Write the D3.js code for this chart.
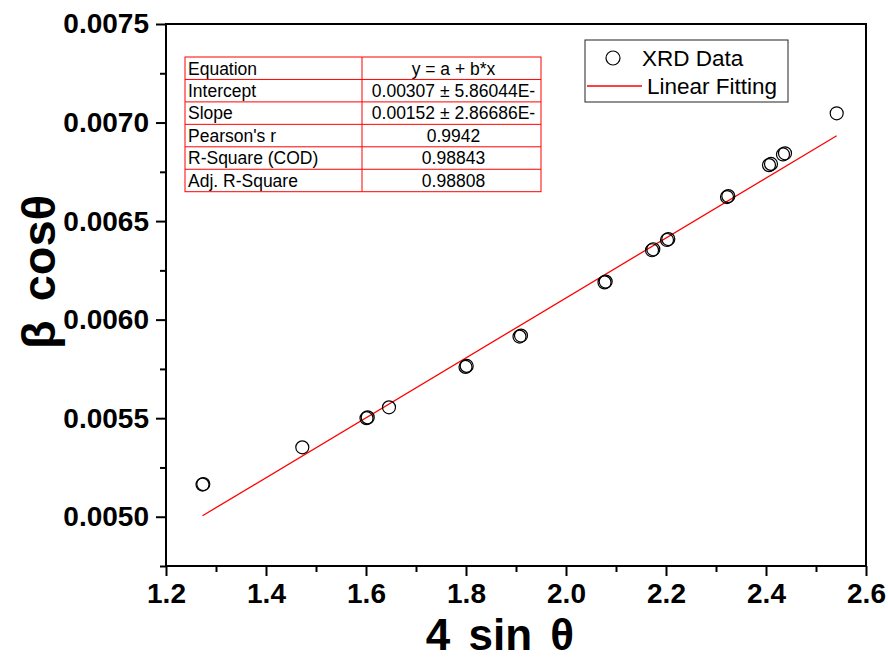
<!DOCTYPE html>
<html>
<head>
<meta charset="utf-8">
<script src="https://cdn.jsdelivr.net/npm/d3@7"></script>
<style>
  html, body { margin: 0; padding: 0; background: #fff; }
  svg { display: block; font-family: "Liberation Sans", Arial, sans-serif; }
</style>
</head>
<body>
<svg id="chart" width="888" height="662"></svg>
<script>
// XRD Williamson–Hall data: 4 sinθ vs β cosθ
const sinTheta4 = [1.2746, 1.2730, 1.4726, 1.6034, 1.6010, 1.6460, 1.8014, 1.7990,
                   1.9100, 1.9070, 2.0794, 2.0770, 2.1746, 2.1720, 2.2046, 2.2020,
                   2.3246, 2.3220, 2.4100, 2.4060, 2.4380, 2.4340, 2.5414];
const betaCosTheta = [0.005166, 0.005163, 0.005352, 0.005504, 0.005500, 0.005555, 0.005765, 0.005760,
                      0.005919, 0.005914, 0.006193, 0.006189, 0.006357, 0.006352, 0.006409, 0.006404,
                      0.006627, 0.006622, 0.006790, 0.006784, 0.006844, 0.006838, 0.007047];

// Linear fit parameters
const intercept = 0.00307;
const slope = 0.00152;

// Fit statistics table
const tableLabels = ["Equation", "Intercept", "Slope", "Pearson's r", "R-Square (COD)", "Adj. R-Square"];
const tableValues = ["y = a + b*x", "0.00307 \u00B1 5.86044E-", "0.00152 \u00B1 2.86686E-", "0.9942", "0.98843", "0.98808"];

// Axis ticks
const xTicks = [1.2, 1.4, 1.6, 1.8, 2.0, 2.2, 2.4, 2.6];
const xMinorTicks = [1.3, 1.5, 1.7, 1.9, 2.1, 2.3, 2.5];
const yTicks = [0.0050, 0.0055, 0.0060, 0.0065, 0.0070, 0.0075];
const yMinorTicks = [0.00475, 0.00525, 0.00575, 0.00625, 0.00675, 0.00725];

const svg = d3.select("#chart");
const plotL = 166, plotR = 866, plotT = 24, plotB = 566;

const x = d3.scaleLinear().domain([1.2, 2.6]).range([plotL, plotR]);
const y = d3.scaleLinear().domain([0.00475, 0.0075]).range([plotB, plotT]);

// Frame
svg.append("rect")
  .attr("x", plotL).attr("y", plotT)
  .attr("width", plotR - plotL).attr("height", plotB - plotT)
  .attr("fill", "none").attr("stroke", "#000").attr("stroke-width", 2);

// X axis
const gx = svg.append("g").attr("transform", `translate(0,${plotB})`);
gx.call(d3.axisBottom(x).tickValues(xTicks).tickSize(10).tickPadding(7)
    .tickFormat(d3.format(".1f")));
gx.append("g").call(d3.axisBottom(x).tickValues(xMinorTicks).tickSize(6).tickFormat(""));

// Y axis
const gy = svg.append("g").attr("transform", `translate(${plotL},0)`);
gy.call(d3.axisLeft(y).tickValues(yTicks).tickSize(10).tickPadding(7)
    .tickFormat(d3.format(".4f")));
gy.append("g").call(d3.axisLeft(y).tickValues(yMinorTicks).tickSize(6).tickFormat(""));

svg.selectAll(".domain").remove();
svg.selectAll(".tick line").attr("stroke", "#000").attr("stroke-width", 2);
svg.selectAll(".tick text")
  .attr("fill", "#000")
  .style("font-size", "28px")
  .style("font-weight", "bold")
  .style("font-family", "'Liberation Sans', Arial, sans-serif");

// Axis titles
svg.append("text")
  .attr("x", 500).attr("y", 650)
  .attr("text-anchor", "middle")
  .style("font-size", "44px").style("font-weight", "bold")
  .style("word-spacing", "6px")
  .text("4 sin \u03B8");

svg.append("text")
  .attr("transform", "translate(55,272) rotate(-90)")
  .attr("text-anchor", "middle")
  .style("font-size", "47px").style("font-weight", "bold")
  .style("word-spacing", "6px")
  .text("\u03B2 cos\u03B8");

// Fit line
const xMin = d3.min(sinTheta4), xMax = d3.max(sinTheta4);
svg.append("line")
  .attr("x1", x(xMin)).attr("y1", y(intercept + slope * xMin))
  .attr("x2", x(xMax)).attr("y2", y(intercept + slope * xMax))
  .attr("stroke", "#ff0000").attr("stroke-width", 1.3);

// Data points
const pts = sinTheta4.map((v, i) => [v, betaCosTheta[i]]);
svg.append("g").selectAll("circle").data(pts).join("circle")
  .attr("cx", d => x(d[0])).attr("cy", d => y(d[1]))
  .attr("r", 6.5)
  .attr("fill", "none").attr("stroke", "#000").attr("stroke-width", 1.2);

// Statistics table
const tx0 = 185, tx1 = 362, tx2 = 541, ty0 = 57, rowH = 22.45;
const table = svg.append("g");
table.append("rect")
  .attr("x", tx0).attr("y", ty0)
  .attr("width", tx2 - tx0).attr("height", rowH * tableLabels.length)
  .attr("fill", "#fff").attr("stroke", "#ff0000").attr("stroke-width", 1);
table.selectAll("line.row").data(d3.range(1, tableLabels.length)).join("line")
  .attr("x1", tx0).attr("x2", tx2)
  .attr("y1", i => ty0 + i * rowH).attr("y2", i => ty0 + i * rowH)
  .attr("stroke", "#ff0000").attr("stroke-width", 1);
table.append("line")
  .attr("x1", tx1).attr("x2", tx1).attr("y1", ty0).attr("y2", ty0 + rowH * tableLabels.length)
  .attr("stroke", "#ff0000").attr("stroke-width", 1);
table.selectAll("text.lab").data(tableLabels).join("text")
  .attr("x", tx0 + 3).attr("y", (d, i) => ty0 + i * rowH + 17.5)
  .style("font-size", "17.5px").text(d => d);
table.selectAll("text.val").data(tableValues).join("text")
  .attr("x", (tx1 + tx2) / 2 + 2).attr("y", (d, i) => ty0 + i * rowH + 17.5)
  .attr("text-anchor", "middle")
  .style("font-size", "17.5px").text(d => d);

// Legend
const lg = svg.append("g");
lg.append("rect")
  .attr("x", 585).attr("y", 40).attr("width", 203).attr("height", 62)
  .attr("fill", "#fff").attr("stroke", "#222").attr("stroke-width", 1);
lg.append("circle")
  .attr("cx", 613).attr("cy", 58).attr("r", 7)
  .attr("fill", "none").attr("stroke", "#000").attr("stroke-width", 1.2);
lg.append("text").attr("x", 642).attr("y", 65.5)
  .style("font-size", "22.5px").text("XRD Data");
lg.append("line")
  .attr("x1", 587).attr("x2", 642).attr("y1", 86).attr("y2", 86)
  .attr("stroke", "#ff0000").attr("stroke-width", 1.5);
lg.append("text").attr("x", 647).attr("y", 94)
  .style("font-size", "22.5px").text("Linear Fitting");
</script>
</body>
</html>
